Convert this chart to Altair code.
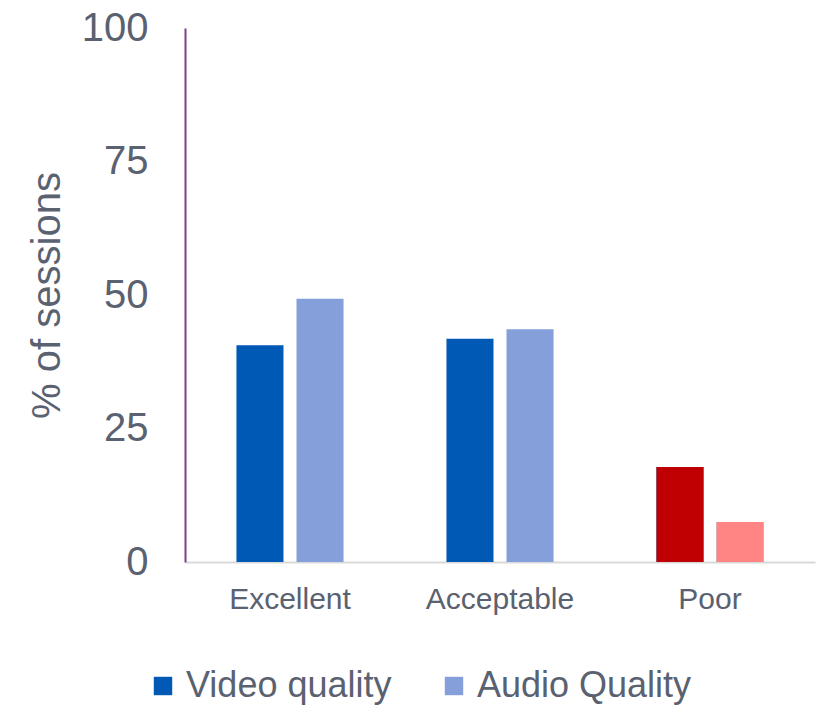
import altair as alt
import pandas as pd

categories = ["Excellent", "Acceptable", "Poor"]
series_names = ["Video quality", "Audio Quality"]
video = [40.6, 41.8, 17.8]
audio = [49.3, 43.6, 7.5]
poor_colors = ["#C00000", "#FF8585"]
series_colors = ["#005AB5", "#849FDA"]

rows = []
for i, c in enumerate(categories):
    rows.append({"category": c, "series": series_names[0], "value": video[i]})
    rows.append({"category": c, "series": series_names[1], "value": audio[i]})
df = pd.DataFrame(rows)
poor = df[df["category"] == "Poor"].copy()
poor["fill"] = poor_colors

FONT = "Liberation Sans"
TXT = "#5A6170"

x = alt.X("category:N", sort=categories,
          scale=alt.Scale(paddingInner=0.49, paddingOuter=0.245),
          axis=alt.Axis(title=None, labelAngle=0, labelFontSize=30, labelColor=TXT,
                        labelFont=FONT, ticks=False, labelPadding=22,
                        domainColor="#D9D9D9", domainWidth=2))
xo = alt.XOffset("series:N", sort=series_names,
                 scale=alt.Scale(paddingInner=0.2167, paddingOuter=0))
y = alt.Y("value:Q", scale=alt.Scale(domain=[0, 100], nice=False),
          axis=alt.Axis(values=[0, 25, 50, 75, 100], title="% of sessions",
                        titleFontSize=40, titleFont=FONT, titleColor=TXT,
                        titleFontWeight="normal", titlePadding=14,
                        labelFontSize=40, labelFont=FONT, labelColor=TXT,
                        ticks=False, labelPadding=37, grid=False,
                        domainColor="#7B3F8F", domainWidth=2))

base = alt.Chart(df).mark_bar().encode(
    x=x, xOffset=xo, y=y,
    color=alt.Color("series:N", sort=series_names,
                    scale=alt.Scale(domain=series_names, range=series_colors),
                    legend=alt.Legend(title=None, orient="none", direction="horizontal",
                                      legendX=-40, legendY=640,
                                      symbolType="square", symbolSize=340,
                                      symbolStrokeWidth=0, labelFontSize=36,
                                      labelFont=FONT, labelColor=TXT, labelLimit=0,
                                      labelOffset=5, columnPadding=44, padding=0)),
)

over = alt.Chart(poor).mark_bar().encode(
    x=x, xOffset=xo, y=y,
    fill=alt.Fill("fill:N", scale=None),
)

chart = alt.layer(base, over).properties(
    width=630, height=534,
    background="white",
    autosize=alt.AutoSizeParams(type="none"),
    padding={"left": 185, "top": 28, "right": 3, "bottom": 143},
).configure_view(strokeWidth=0, stroke=None)

chart.save("out.html", embed_options={"renderer": "svg", "actions": False})
